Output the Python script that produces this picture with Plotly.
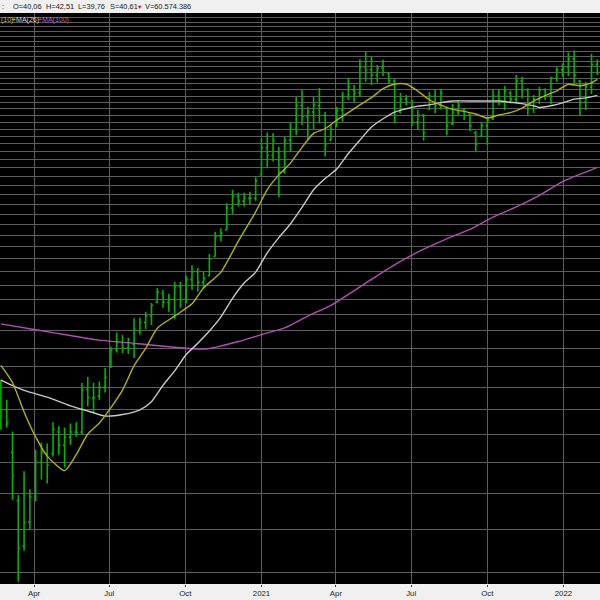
import pandas as pd
import plotly.graph_objects as go

# ---- data (weekly bars, Fridays) ----
start_week = "2020-02-21"
n_weeks = 104
dates = pd.date_range(start_week, periods=n_weeks, freq="W-FRI")

high = [11.36, 10.44, 9.12, 6.96, 7.70, 7.13, 8.44, 8.70, 8.66, 9.48,
        9.32, 9.27, 9.43, 9.48, 11.22, 11.51, 11.22, 11.28, 11.95, 13.09,
        13.89, 13.75, 13.58, 14.77, 14.79, 15.18, 15.76, 16.8, 16.66, 16.38,
        17.23, 17.23, 17.68, 18.5, 18.28, 18.05, 19.41, 21.34, 21.65, 24.08,
        25.49, 25.19, 25.19, 25.3, 26.91, 31.76, 32.55, 32.47, 30.61, 31.96,
        33.96, 37.84, 38.98, 36.3, 37.84, 39.33, 35.53, 33.6, 36.3, 38.66,
        41.03, 39.83, 44.45, 45.92, 44.94, 43.38, 44.32, 41.98, 40.81, 38.54,
        38.16, 37.36, 35.8, 35.19, 38.7, 38.98, 39.1, 36.3, 36.73, 37.36,
        36.06, 35.3, 32.75, 34.06, 34.7, 38.98, 38.98, 39.66, 38.87, 41.55,
        41.26, 39.28, 38.16, 39.55, 39.28, 41.26, 42.96, 43.7, 45.73, 46.14,
        40.69, 40.4, 45.47, 44.45]
low = [9.19, 9.27, 6.82, 4.81, 5.49, 6.00, 6.77, 7.43, 7.31, 8.20,
       8.26, 7.82, 8.62, 8.92, 8.99, 10.14, 9.88, 10.44, 10.76, 11.94,
       12.76, 12.73, 12.69, 12.47, 13.76, 14.08, 14.34, 15.76, 15.43, 15.17,
       14.72, 15.43, 15.76, 16.66, 16.52, 16.71, 17.63, 19.19, 20.46, 21.5,
       23.01, 23.74, 23.74, 24.01, 24.35, 27.17, 27.95, 28.75, 24.7, 27.36,
       29.99, 32.19, 33.6, 31.54, 32.9, 33.83, 29.38, 31.45, 33.35, 34.06,
       37.36, 36.94, 37.89, 40.4, 39.83, 40.23, 41.38, 40.0, 33.91, 35.3,
       36.53, 33.45, 33.0, 31.45, 35.8, 35.3, 35.9, 32.19, 33.6, 35.05,
       34.3, 32.71, 30.0, 31.96, 30.86, 34.3, 36.53, 35.8, 36.8, 36.8,
       37.62, 35.05, 35.3, 36.69, 37.36, 36.69, 40.4, 41.26, 41.38, 40.13,
       34.9, 35.8, 38.33, 41.55]
open_ = [11.0, 10.0, 8.34, 6.8, 5.6, 6.2, 6.9, 8.0, 8.3, 8.3,
         9.1, 8.6, 8.9, 9.1, 9.1, 10.9, 10.5, 10.6, 11.0, 12.0,
         12.9, 13.3, 13.0, 13.2, 14.0, 14.5, 14.9, 15.8, 16.4, 15.8,
         16.0, 16.9, 16.0, 17.4, 18.0, 17.2, 17.7, 19.2, 20.9, 21.5,
         23.6, 24.8, 24.3, 24.6, 24.6, 27.2, 30.5, 29.5, 30.0, 27.5,
         31.5, 33.0, 36.5, 34.8, 35.5, 36.5, 35.0, 31.5, 33.4, 35.8,
         37.9, 39.0, 38.5, 43.0, 42.5, 41.5, 42.8, 41.9, 40.5, 35.5,
         37.5, 37.0, 34.0, 35.0, 36.0, 38.0, 36.5, 36.0, 33.8, 35.5,
         35.8, 35.0, 32.5, 32.0, 33.5, 34.5, 38.0, 37.0, 38.5, 37.5,
         40.5, 39.0, 36.0, 37.5, 39.0, 38.0, 41.0, 42.5, 43.0, 44.5,
         40.5, 37.0, 39.5, 43.5]
close = [10.0, 9.47, 7.56, 5.55, 6.19, 6.9, 8.0, 8.35, 7.9, 9.2,
         8.6, 8.9, 9.1, 9.08, 10.88, 10.53, 10.54, 11.0, 11.48, 12.9,
         13.31, 13.0, 13.3, 14.04, 14.5, 14.9, 15.6, 16.5, 15.8, 16.0,
         16.9, 16.0, 17.4, 18.0, 17.2, 17.5, 19.0, 20.9, 21.2, 23.6,
         24.8, 24.3, 24.6, 24.6, 26.5, 30.5, 29.5, 31.4, 27.5, 31.5,
         33.0, 36.5, 34.8, 35.5, 36.6, 37.0, 31.0, 33.0, 35.8, 37.9,
         39.5, 38.5, 43.0, 42.5, 41.5, 42.8, 42.0, 40.5, 35.0, 37.5,
         37.0, 34.0, 35.0, 32.5, 38.0, 36.5, 38.5, 33.5, 35.5, 36.5,
         35.0, 33.5, 31.0, 33.5, 34.3, 38.0, 37.0, 38.8, 37.5, 40.5,
         39.0, 36.0, 37.5, 39.0, 38.0, 41.0, 42.5, 43.0, 44.5, 41.5,
         37.0, 39.5, 43.5, 42.0]

# moving averages (week index -> value)
ma10_idx = [0, 2, 4, 6, 8, 11, 13, 15, 17, 19, 21, 23, 25, 27, 30, 33, 35, 38, 41, 44,
            46, 48, 50, 52, 54, 56, 58, 60, 62, 64, 66, 68, 70, 72, 74, 76, 78, 80, 82, 84,
            86, 88, 90, 92, 94, 96, 98, 100, 102, 103]
ma10_val = [12.08, 11.23, 9.91, 8.91, 8.21, 7.72, 8.26, 9.02, 9.45, 10.09, 10.87, 12.07, 12.98,
            14.15, 14.9, 15.7, 16.8, 17.96, 20.5, 23.22, 25.53, 27.17, 28.56, 30.55, 32.41,
            33.06, 34.3, 35.4, 36.6, 37.75, 39.2, 40.0, 40.0, 38.8, 37.4, 36.56, 35.9, 35.6,
            35.2, 34.6, 35.05, 35.4, 36.1, 37.2, 38.08, 38.85, 39.95, 39.7, 40.2, 40.8]
ma26_idx = [0, 4, 8, 12, 15, 18, 21, 24, 26, 28, 30, 32, 34, 36, 38, 40, 42, 44, 46, 48,
            50, 52, 54, 56, 58, 60, 62, 64, 66, 68, 70, 72, 74, 76, 78, 82, 86, 88, 90, 92,
            93, 95, 97, 99, 101, 103]
ma26_val = [11.35, 10.86, 10.55, 10.17, 9.95, 9.74, 9.80, 10.0, 10.35, 11.1, 11.8, 12.65,
            13.27, 13.98, 14.85, 16.07, 17.15, 17.96, 19.5, 20.8, 22.05, 23.65, 25.5, 26.75,
            27.85, 29.75, 31.5, 33.3, 34.5, 35.5, 36.0, 36.4, 36.6, 36.95, 37.2, 37.2, 37.2,
            37.0, 36.8, 36.45, 36.2, 36.45, 36.9, 37.5, 37.7, 38.1]
ma100_idx = [0, 6, 12, 17, 23, 29, 34, 36, 38, 41, 45, 49, 53, 57, 61, 65, 69, 73, 77, 81,
             85, 89, 93, 97, 101, 103]
ma100_val = [14.41, 14.06, 13.72, 13.45, 13.27, 13.08, 12.95, 12.98, 13.12, 13.37, 13.77,
             14.17, 14.9, 15.6, 16.6, 17.7, 18.8, 19.8, 20.7, 21.55, 22.7, 23.7, 24.9, 26.4,
             27.5, 28.05]

tick_dates = ["2020-04-01", "2020-07-01", "2020-10-01", "2021-01-01",
              "2021-04-01", "2021-07-01", "2021-10-01", "2022-01-01"]
tick_text = ["Apr", "Jul", "Oct", "2021", "Apr", "Jul", "Oct", "2022"]
grid_values = list(range(5, 55))

GREEN = "#00b400"
fig = go.Figure()
fig.add_trace(go.Ohlc(
    x=dates, open=open_, high=high, low=low, close=close,
    increasing=dict(line=dict(color=GREEN, width=1.6)),
    decreasing=dict(line=dict(color=GREEN, width=1.6)),
    tickwidth=0.3, hoverinfo="skip", showlegend=False))

for idx, val, col in [(ma100_idx, ma100_val, "#b050b0"),
                      (ma26_idx, ma26_val, "#c8c8c8"),
                      (ma10_idx, ma10_val, "#b4b400")]:
    fig.add_trace(go.Scatter(
        x=[dates[i] for i in idx], y=val, mode="lines",
        line=dict(color=col, width=1.4, shape="spline", smoothing=0.6),
        hoverinfo="skip", showlegend=False))

font = "Liberation Sans, Arial, sans-serif"
fig.update_layout(
    width=600, height=600,
    margin=dict(l=0, r=0, t=13, b=16, pad=0),
    paper_bgcolor="#f0f0f0", plot_bgcolor="#000000",
    showlegend=False,
    xaxis=dict(
        type="date", range=["2020-02-19 21:36", "2022-02-14 06:15"],
        rangeslider=dict(visible=False), automargin=False,
        tickmode="array", tickvals=tick_dates, ticktext=tick_text,
        showgrid=True, gridcolor="#5e5e5e", gridwidth=1,
        ticks="outside", ticklen=2, tickcolor="#404040",
        tickfont=dict(family=font, size=7.8, color="#1a1a1a"),
        zeroline=False, showline=False,
    ),
    yaxis=dict(
        type="log", range=[0.6781, 1.7332], automargin=False,
        tickmode="array", tickvals=grid_values, showticklabels=False,
        showgrid=True, gridcolor="#5e5e5e", gridwidth=1,
        zeroline=False, showline=False, ticks="",
    ),
)

# header texts (above plot area)
hdr_y = 1 + 6.5 / 571
hdr = [(":", 2, "#202020", 7.4), ("O=40,06", 13, "#202020", 7.4), ("H=42,51", 46, "#202020", 7.4),
       ("L=39,76", 78, "#202020", 7.4), ("S=40,61", 110, "#202020", 7.4),
       ("\u25bc", 137, "#e00000", 5.5), ("V=60.574.386", 144.5, "#202020", 7.4)]
for txt, px, col, fs in hdr:
    fig.add_annotation(text=txt, x=px / 600, y=hdr_y, xref="paper", yref="paper",
                       xanchor="left", yanchor="middle", showarrow=False,
                       borderpad=0, borderwidth=0,
                       font=dict(family=font, size=fs, color=col))

leg_y = 1 - 6.5 / 571
for txt, px, col in [("(10)", 0.5, "#c8c800"), ("+MA(26)", 11.5, "#d8d8d8"), ("+MA(100)", 37.5, "#c060c0")]:
    fig.add_annotation(text=txt, x=px / 600, y=leg_y, xref="paper", yref="paper",
                       xanchor="left", yanchor="middle", showarrow=False,
                       borderpad=0, borderwidth=0,
                       font=dict(family=font, size=7, color=col))

fig.write_html("out.html",
               config={"displayModeBar": False},
               post_script="document.body.style.margin='0';document.body.style.padding='0';"
                           "document.documentElement.style.overflow='hidden';")
